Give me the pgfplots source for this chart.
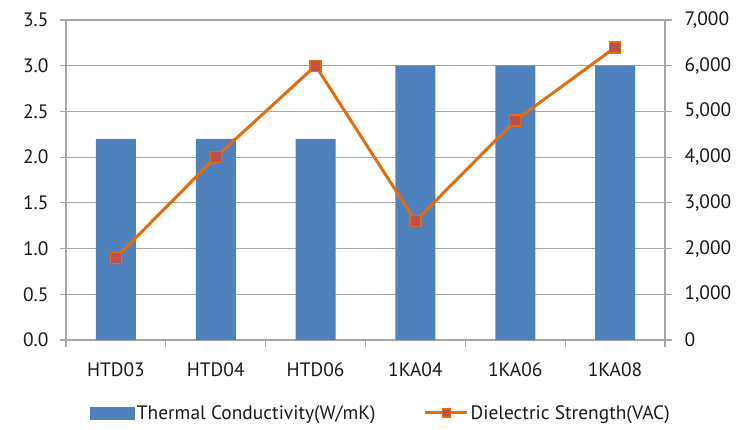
\documentclass[border=0pt]{standalone}
\usepackage{pgfplots}
\pgfplotsset{compat=1.18}
\usepackage{fontspec}
\setmainfont{PT Sans}
\definecolor{barblue}{HTML}{4F81BD}
\definecolor{lineorange}{HTML}{E46C0A}
\definecolor{markred}{HTML}{C0504D}
\definecolor{gridgray}{HTML}{A6A6A6}
\definecolor{txt}{HTML}{1A1A1A}
\pgfplotsset{
  linelegend/.style={legend image code/.code={\draw[##1,mark size=4bp,mark repeat=2,mark phase=2] plot coordinates {(0bp,0bp) (21bp,0bp) (42bp,0bp)};}},
  barlegend/.style={legend image code/.code={\fill[barblue] (0bp,-6bp) rectangle (44bp,6bp);}},
}
\begin{document}
\begin{tikzpicture}
\useasboundingbox (-66bp,-90bp) rectangle (686bp,340bp);
\pgfplotsset{
  common/.style={
    scale only axis, width=599bp, height=320bp,
    at={(0bp,0bp)}, anchor=south west,
    xmin=-0.5, xmax=5.5,
    font=\fontsize{19.5}{22}\selectfont,
    every tick label/.append style={text=txt},
    /pgf/number format/assume math mode=true,
    tick align=outside,
    axis line style={gridgray, line width=1.2bp},
    every tick/.style={gridgray, line width=1.2bp},
  }
}
\begin{axis}[common,
  axis x line*=bottom, axis y line*=left,
  ymin=0, ymax=3.5, ytick={0,0.5,...,3.5},
  yticklabel style={/pgf/number format/fixed, /pgf/number format/fixed zerofill, /pgf/number format/precision=1, xshift=-8bp},
  ymajorgrids, major grid style={gridgray, line width=1.2bp},
  major tick length=6bp,
  xtick={0,...,5}, xticklabels={HTD03,HTD04,HTD06,1KA04,1KA06,1KA08},
  major x tick style={draw=none},
  xticklabel style={yshift=-13bp},
  minor xtick={-0.5,0.5,...,5.5}, minor tick length=7bp,
  minor x tick style={gridgray, line width=1.2bp},
]
\addplot[ybar, fill=barblue, draw=none, bar width=40bp] coordinates {(0,2.2) (1,2.2) (2,2.2) (3,3.0) (4,3.0) (5,3.0)};
\end{axis}
\begin{axis}[common,
  axis x line=none, axis y line*=right,
  ymin=0, ymax=7000, ytick={0,1000,...,7000},
  scaled y ticks=false,
  yticklabel style={/pgf/number format/1000 sep={,}, xshift=9bp},
  major tick length=7bp,
  clip=false,
  legend style={draw=none, fill=none, at={(0.526,-0.228)}, anchor=center,
    legend columns=2, font=\fontsize{19.5}{22}\selectfont, text=txt,
    /tikz/every even column/.append style={column sep=46bp},
    nodes={inner xsep=2bp}},
]
\addlegendimage{barlegend}
\addlegendentry{Thermal Conductivity(W/mK)}
\addplot[lineorange, line width=3bp, mark=square*, mark size=5.5bp,
  mark options={fill=markred, draw=lineorange, line width=1.2bp}, linelegend]
  coordinates {(0,1800) (1,4000) (2,6000) (3,2600) (4,4800) (5,6400)};
\addlegendentry{Dielectric Strength(VAC)}
\end{axis}
\end{tikzpicture}
\end{document}
